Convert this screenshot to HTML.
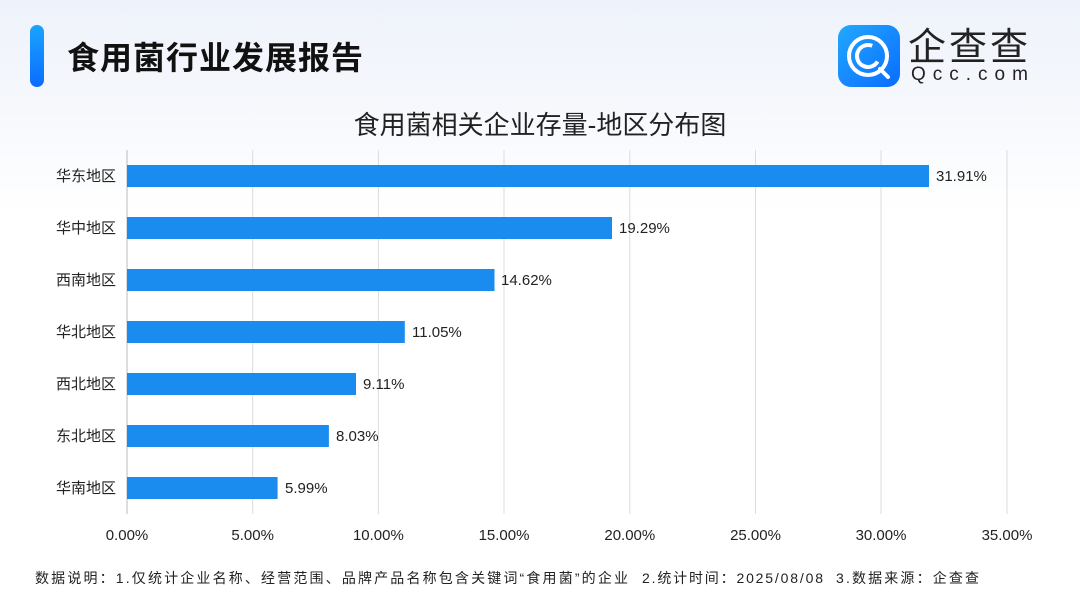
<!DOCTYPE html>
<html><head><meta charset="utf-8"><style>
body{margin:0;width:1080px;height:608px;overflow:hidden;background:linear-gradient(180deg,#eef2fa 0%,#f7f9fd 20%,#fff 35%);font-family:"Liberation Sans","Noto Sans CJK SC",sans-serif;position:relative;color:#222}
.abs{position:absolute;white-space:nowrap}
</style></head><body>
<div class="abs" style="left:30px;top:25px;width:14px;height:62px;border-radius:7px;background:linear-gradient(#1aa4ff,#0a6cff)"></div>
<div class="abs" style="left:67px;top:33px;font-size:32px;font-weight:bold;color:#111;letter-spacing:1px">食用菌行业发展报告</div>
<div class="abs" style="left:838px;top:25px;width:62px;height:62px;border-radius:13px;background:linear-gradient(135deg,#22a8ff,#0a6cff)">
<svg width="62" height="62"><circle cx="30" cy="31" r="19" fill="none" stroke="#fff" stroke-width="4"/><circle cx="30" cy="31" r="11" fill="none" stroke="#fff" stroke-width="4" stroke-dasharray="50 20" transform="rotate(30 30 31)"/><line x1="42" y1="44" x2="50" y2="52" stroke="#fff" stroke-width="4" stroke-linecap="round"/></svg></div>
<div class="abs" style="left:908px;top:21px;font-size:38px;color:#222;letter-spacing:3px;line-height:54px">企查查</div>
<div class="abs" style="left:911px;top:64px;font-size:19px;color:#222;letter-spacing:7px;line-height:22px">Qcc.com</div>
<div class="abs" style="left:0;width:1080px;text-align:center;top:105px;font-size:26px;color:#222">食用菌相关企业存量-地区分布图</div>
<svg class="abs" style="left:0;top:0" width="1080" height="608" font-family="Liberation Sans, Noto Sans CJK SC, sans-serif">
<g stroke="#dcdcdc" stroke-width="1">
<line x1="252.7" y1="150" x2="252.7" y2="514"/><line x1="378.4" y1="150" x2="378.4" y2="514"/><line x1="504" y1="150" x2="504" y2="514"/><line x1="629.8" y1="150" x2="629.8" y2="514"/><line x1="755.5" y1="150" x2="755.5" y2="514"/><line x1="881" y1="150" x2="881" y2="514"/><line x1="1007" y1="150" x2="1007" y2="514"/>
</g>
<line x1="127" y1="150" x2="127" y2="514" stroke="#bbb"/>
<g fill="#1a8cf0">
<rect x="127" y="165" width="802" height="22"/>
<rect x="127" y="217" width="485" height="22"/>
<rect x="127" y="269" width="367.5" height="22"/>
<rect x="127" y="321" width="277.8" height="22"/>
<rect x="127" y="373" width="229" height="22"/>
<rect x="127" y="425" width="201.9" height="22"/>
<rect x="127" y="477" width="150.6" height="22"/>
</g>
<g font-size="15" fill="#222" text-anchor="end">
<text x="116" y="181">华东地区</text><text x="116" y="233">华中地区</text><text x="116" y="285">西南地区</text><text x="116" y="337">华北地区</text><text x="116" y="389">西北地区</text><text x="116" y="441">东北地区</text><text x="116" y="493">华南地区</text>
</g>
<g font-size="15" fill="#222">
<text x="936" y="181">31.91%</text><text x="619" y="233">19.29%</text><text x="501" y="285">14.62%</text><text x="412" y="337">11.05%</text><text x="363" y="389">9.11%</text><text x="336" y="441">8.03%</text><text x="285" y="493">5.99%</text>
</g>
<g font-size="15" fill="#222" text-anchor="middle">
<text x="127" y="540">0.00%</text><text x="252.7" y="540">5.00%</text><text x="378.4" y="540">10.00%</text><text x="504" y="540">15.00%</text><text x="629.8" y="540">20.00%</text><text x="755.5" y="540">25.00%</text><text x="881" y="540">30.00%</text><text x="1007" y="540">35.00%</text>
</g>
<g font-size="14" fill="#222">
<text x="35" y="583" textLength="593" lengthAdjust="spacing">数据说明：1.仅统计企业名称、经营范围、品牌产品名称包含关键词“食用菌”的企业</text>
<text x="642" y="583" textLength="181" lengthAdjust="spacing">2.统计时间：2025/08/08</text>
<text x="836" y="583" textLength="143" lengthAdjust="spacing">3.数据来源：企查查</text>
</g>
</svg>
</body></html>
